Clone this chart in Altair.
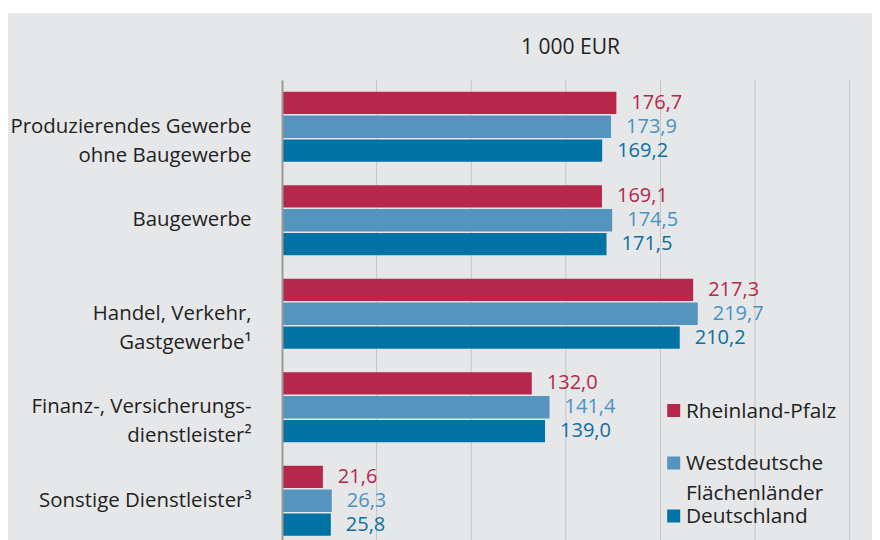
import altair as alt
import pandas as pd

categories = [
    "Produzierendes Gewerbe|ohne Baugewerbe",
    "Baugewerbe",
    "Handel, Verkehr,|Gastgewerbe¹",
    "Finanz-, Versicherungs-|dienstleister²",
    "Sonstige Dienstleister³",
]
series = ["Rheinland-Pfalz", "Westdeutsche Flächenländer", "Deutschland"]
rlp = [176.7, 169.1, 217.3, 132.0, 21.6]
west = [173.9, 174.5, 219.7, 141.4, 26.3]
de = [169.2, 171.5, 210.2, 139.0, 25.8]
grid_values = [50, 100, 150, 200, 250, 300]

bar_colors = ["#b7274c", "#5594be", "#0073a4"]
label_colors = ["#b7274c", "#4a93c3", "#0b70a3"]
FONT = "Open Sans"
TXT = "#222222"
BG = "#e6e7e9"

rows = []
for name, vals in zip(series, [rlp, west, de]):
    for cat, v in zip(categories, vals):
        rows.append({"category": cat, "series": name, "value": v,
                     "label": f"{v:.1f}".replace(".", ",")})
df = pd.DataFrame(rows)
grid_df = pd.DataFrame({"g": grid_values})

W, H = 590, 460
XMAX = 311.8

x_scale = alt.Scale(domain=[0, XMAX], nice=False, zero=True)

y_enc = alt.Y(
    "category:N", sort=categories,
    scale=alt.Scale(range=[0, 467.5], paddingInner=0.25, paddingOuter=0.125),
    axis=alt.Axis(title=None, labelExpr="split(datum.label, '|')", ticks=False,
                  domain=True, domainColor="#999999", domainWidth=2,
                  labelPadding=31, labelFontSize=20.4, labelLineHeight=29,
                  labelColor=TXT, labelFont=FONT, labelLimit=0, zindex=1),
)
x_enc = alt.X(
    "value:Q", scale=x_scale,
    axis=alt.Axis(orient="top", values=grid_values, labels=False, ticks=False,
                  domain=False, grid=False, zindex=1,
                  title="1 000 EUR", titleX=288, titleY=-33, titleFontSize=21,
                  titleFontWeight="normal", titleFont=FONT, titleColor=TXT,
                  titleBaseline="middle"),
)
yoff = alt.YOffset("series:N", sort=series, scale=alt.Scale(paddingInner=0.06))

bg = alt.Chart(alt.Data(values=[{}])).mark_rect(color=BG).encode(
    x=alt.value(-276), x2=alt.value(W + 10), y=alt.value(-67), y2=alt.value(H + 20)
)

grid = alt.Chart(grid_df).mark_rule(color="#c6c6c6", strokeWidth=1).encode(
    x=alt.X("g:Q", scale=x_scale)
)

bars = alt.Chart(df).mark_bar().encode(
    x=x_enc, y=y_enc, yOffset=yoff,
    color=alt.Color("series:N", scale=alt.Scale(domain=series, range=bar_colors), legend=None),
)
texts = alt.Chart(df).mark_text(align="left", baseline="middle", dx=15, fontSize=20, font=FONT).encode(
    x="value:Q", y=alt.Y("category:N", sort=categories), yOffset=yoff, text="label:N",
    color=alt.Color("series:N", scale=alt.Scale(domain=series, range=label_colors), legend=None),
)

legend_layers = []
sq_y = [330.5, 383, 436]
tx_y = [337.5, 390, 442.5]
for i, name in enumerate(series):
    legend_layers.append(
        alt.Chart(alt.Data(values=[{}])).mark_square(size=169, opacity=1, color=bar_colors[i]).encode(
            x=alt.value(391.7), y=alt.value(sq_y[i]))
    )
    legend_layers.append(
        alt.Chart(alt.Data(values=[{}])).mark_text(
            align="left", baseline="alphabetic", fontSize=20.8, font=FONT, color=TXT,
            lineHeight=30, lineBreak=" " if i == 1 else "\n").encode(
            x=alt.value(404), y=alt.value(tx_y[i]), text=alt.value(name))
    )

chart = alt.layer(bg, grid, bars, texts, *legend_layers).resolve_scale(color="independent").properties(
    width=W, height=H,
    autosize=alt.AutoSizeParams(type="none"),
    padding={"left": 274, "top": 72, "right": 0, "bottom": 0},
    background="white",
).configure_view(stroke=None)

chart.save("out.html", embed_options={"renderer": "svg", "actions": False})
